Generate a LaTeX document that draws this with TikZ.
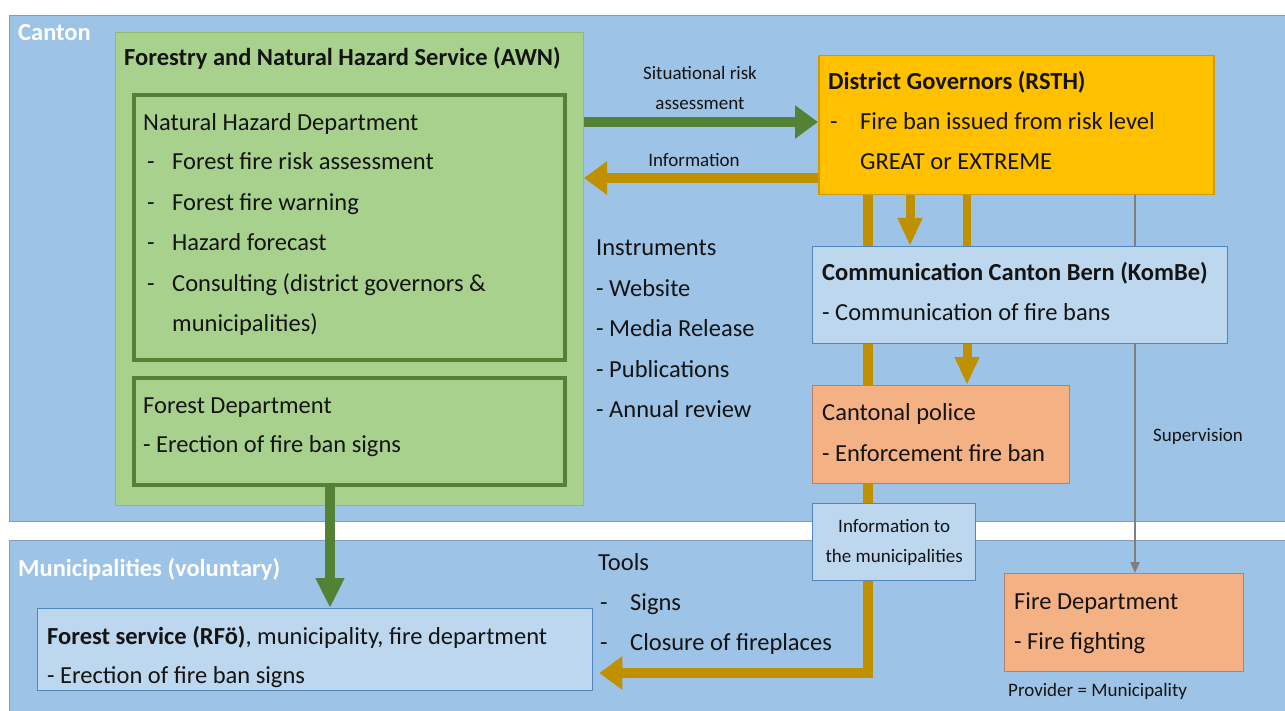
\documentclass[tikz,border=0pt]{standalone}
\usepackage{fontspec}
\setmainfont{Carlito}
\usetikzlibrary{arrows.meta}

\definecolor{panelblue}{HTML}{9DC3E6}
\definecolor{panelline}{HTML}{7F9CBD}
\definecolor{lgreen}{HTML}{A9D18E}
\definecolor{awnline}{HTML}{8CBF6C}
\definecolor{dgreen}{HTML}{548235}
\definecolor{goldfill}{HTML}{FFC000}
\definecolor{goldline}{HTML}{D39A00}
\definecolor{goldarrow}{HTML}{BF9000}
\definecolor{lblue}{HTML}{BDD7EE}
\definecolor{mblue}{HTML}{4F86C0}
\definecolor{lorange}{HTML}{F4B183}
\definecolor{orangeline}{HTML}{B7806A}
\definecolor{supergray}{HTML}{7F7F7F}
\definecolor{ink}{HTML}{141414}

\pgfdeclarelayer{panels}
\pgfdeclarelayer{links}
\pgfsetlayers{panels,links,main}

\tikzset{
  panel/.style={draw=panelline, line width=1pt, fill=panelblue},
  boxbase/.style={rectangle, anchor=north west, inner sep=0pt},
  awnbox/.style={boxbase, fill=lgreen, draw=awnline, line width=1pt},
  deptbox/.style={boxbase, fill=lgreen, draw=dgreen, line width=4pt},
  govbox/.style={boxbase, fill=goldfill, draw=goldline, line width=1.5pt},
  bluebox/.style={boxbase, fill=lblue, draw=mblue, line width=1.3pt},
  orangebox/.style={boxbase, fill=lorange, draw=orangeline, line width=1.2pt},
  txt/.style={anchor=west, inner sep=0pt, text=ink, text height=19pt, text depth=3pt,
    font=\fontsize{24.5}{29}\selectfont},
  btxt/.style={txt, font=\fontsize{24.5}{29}\selectfont\bfseries},
  wtxt/.style={txt, text=white, font=\fontsize{24.5}{29}\selectfont\bfseries},
  small/.style={inner sep=0pt, text=ink, font=\fontsize{19}{23}\selectfont},
  greenflow/.style={draw=dgreen, line width=10pt,
    -{Triangle[width=32pt,length=23pt]}},
  goldflow/.style={draw=goldarrow, line width=10pt,
    -{Triangle[width=32pt,length=23pt]}},
  goldline/.style={draw=goldarrow, line width=8pt},
  golddown/.style={draw=goldarrow, line width=9pt,
    -{Triangle[width=23pt,length=28pt]}},
  superline/.style={draw=supergray, line width=2.2pt,
    -{Triangle[width=9pt,length=11pt]}},
}

\begin{document}
\begin{tikzpicture}[x=1pt, y=-1pt]
\useasboundingbox (0,0) rectangle (1285,711);

\begin{pgfonlayer}{panels}
  \fill[white] (0,0) rectangle (1285,711);
  % the two levels
  \node[boxbase, panel, minimum width=1290pt, minimum height=506pt] (canton) at (9,15) {};
  \node[boxbase, panel, minimum width=1290pt, minimum height=180pt] (muni) at (9,540) {};
  % forestry and natural hazard service
  \node[awnbox, minimum width=468pt, minimum height=473pt] (awn) at (115,32) {};
\end{pgfonlayer}

% inner departments
\node[deptbox, minimum width=431pt, minimum height=265pt] (nhd) at (132,93) {};
\node[deptbox, minimum width=431pt, minimum height=107pt] (fd) at (132,376) {};

% cantonal actors
\node[govbox, minimum width=395pt, minimum height=139pt] (dg) at (818,55) {};
\node[bluebox, minimum width=415pt, minimum height=97pt] (kom) at (812,246) {};
\node[orangebox, minimum width=257pt, minimum height=98pt] (pol) at (812,385) {};
\node[bluebox, minimum width=163pt, minimum height=77pt] (info) at (812,503) {};

% municipal actors
\node[bluebox, minimum width=555pt, minimum height=82pt] (fs) at (37,608) {};
\node[orangebox, minimum width=239pt, minimum height=98pt] (fire) at (1004,573) {};

% reference rows and columns for the connectors
\coordinate (rowA) at (0,122);
\coordinate (rowB) at (0,178);
\coordinate (rowC) at (0,673);
\coordinate (colA) at (868,0);
\coordinate (colB) at (910,0);
\coordinate (colC) at (967,0);
\coordinate (colD) at (1135,0);
\coordinate (colE) at (330,0);

\begin{pgfonlayer}{links}
  \draw[greenflow] (awn.east |- rowA) -- (dg.west |- rowA);
  \draw[goldflow] (dg.west |- rowB) -- (awn.east |- rowB);
  \draw[greenflow, -{Triangle[width=27pt,length=30pt]}] (fd.south -| colE) -- (fs.north -| colE);
  \draw[golddown] (dg.south -| colB) -- (kom.north -| colB);
  \draw[goldline] (dg.south -| colC) -- (kom.north -| colC);
  \draw[golddown] (kom.south -| colC) -- (pol.north -| colC);
  \draw[goldflow, line width=10pt, shorten >=6pt] (dg.south -| colA) -- (colA |- rowC) -- (fs.east |- rowC);
  \draw[superline] (dg.south -| colD) -- (fire.north -| colD);
\end{pgfonlayer}

% level labels
\node[wtxt] (lcanton) at (18,33) {Canton};
\node[wtxt] (lmuni) at (18,568) {Municipalities (voluntary)};

% forestry and natural hazard service
\node[btxt] (tawn) at (124,58) {Forestry and Natural Hazard Service (AWN)};
\node[txt] (tnhd) at (143,123) {Natural Hazard Department};
\foreach \y/\t in {162/Forest fire risk assessment, 203/Forest fire warning,
                   243/Hazard forecast, 283/Consulting (district governors \&}{
  \node[txt] at (147,\y) {-};
  \node[txt] at (172,\y) {\t};
}
\node[txt] (tnhd5) at (172,323) {municipalities)};
\node[txt] (tfd) at (143,405) {Forest Department};
\node[txt] (tfd1) at (143,444) {- Erection of fire ban signs};

% connector labels
\node[small, align=center] (lrisk) at (700,88) {Situational risk\\[7pt]assessment};
\node[small] (linfo) at (694,160) {Information};
\node[small, anchor=west] (lsup) at (1153,436) {Supervision};
\node[small, anchor=west] (lprov) at (1008,691) {Provider = Municipality};
\node[small, align=center] (tinfo) at (info.center) {Information to\\[7pt]the municipalities};

% instruments and tools
\node[txt] (tinst) at (596,248) {Instruments};
\foreach \y/\t in {289/Website, 329/Media Release, 369/Publications, 409/Annual review}{
  \node[txt] at (596,\y) {- \t};
}
\node[txt] (ttools) at (598,562) {Tools};
\node[txt] at (600,602) {-};
\node[txt] (tsigns) at (630,602) {Signs};
\node[txt] at (600,642) {-};
\node[txt] (tclos) at (630,642) {Closure of fireplaces};

% district governors
\node[btxt] (tdg) at (828,82) {District Governors (RSTH)};
\node[txt] at (830,122) {-};
\node[txt] (tdg1) at (860,122) {Fire ban issued from risk level};
\node[txt] (tdg2) at (860,162) {GREAT or EXTREME};

% communication
\node[btxt] (tkom) at (822,273) {Communication Canton Bern (KomBe)};
\node[txt] (tkom1) at (822,312) {- Communication of fire bans};

% police
\node[txt] (tpol) at (822,412) {Cantonal police};
\node[txt] (tpol1) at (822,453) {- Enforcement fire ban};

% forest service
\node[txt] (tfs) at (47,636) {\textbf{Forest service (RFö)}, municipality, fire department};
\node[txt] (tfs1) at (47,675) {- Erection of fire ban signs};

% fire department
\node[txt] (tfire) at (1014,601) {Fire Department};
\node[txt] (tfire1) at (1014,641) {- Fire fighting};
\end{tikzpicture}
\end{document}
